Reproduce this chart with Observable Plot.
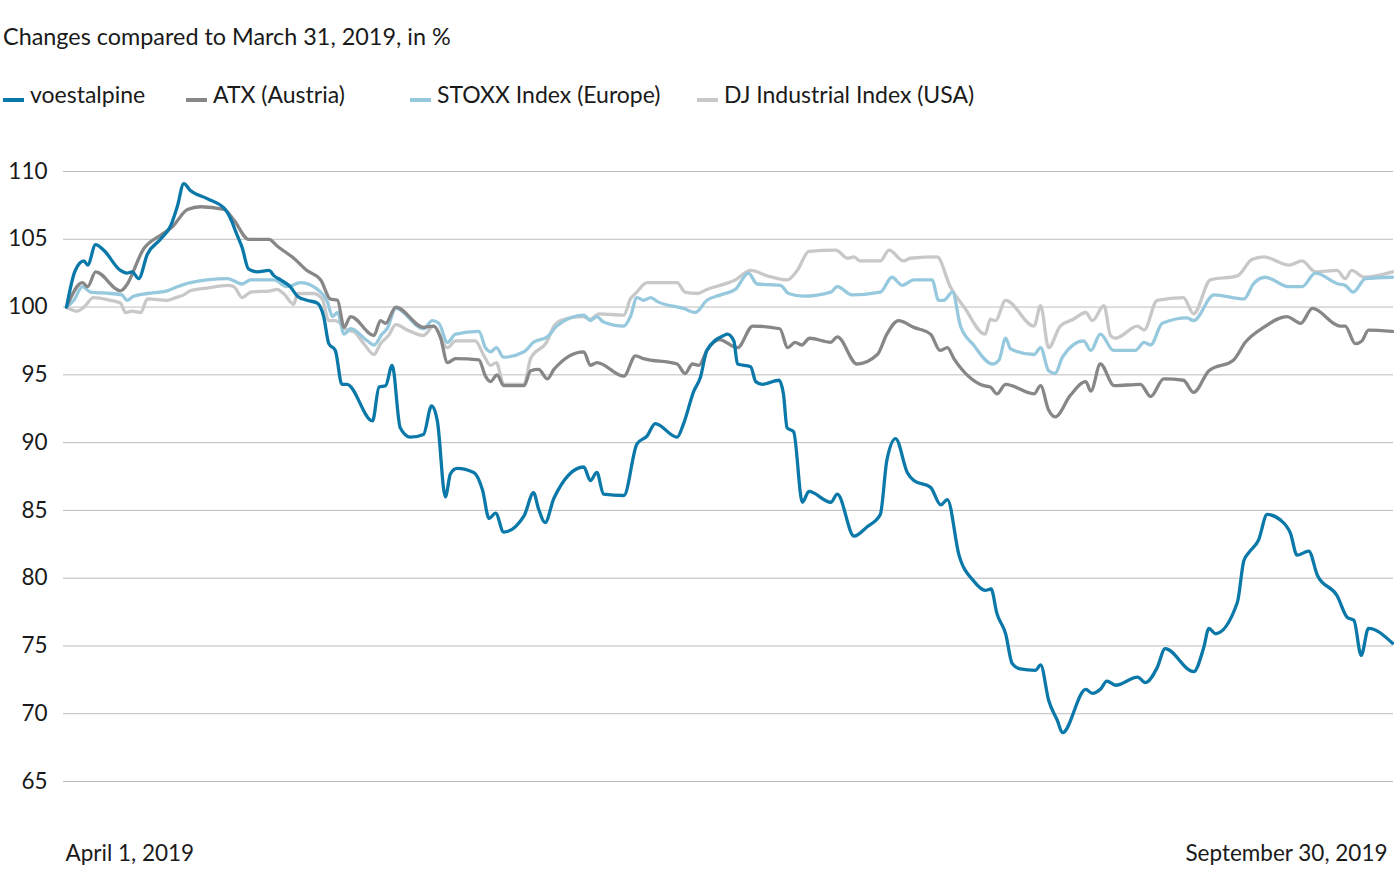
<!DOCTYPE html>
<html>
<head>
<meta charset="utf-8">
<script src="https://cdn.jsdelivr.net/npm/d3@7"></script>
<script src="https://cdn.jsdelivr.net/npm/@observablehq/plot@0.6"></script>
<style>
  html, body { margin: 0; padding: 0; background: #fff; }
  body { width: 1394px; height: 888px; position: relative; overflow: hidden; font-family: Lato, "Open Sans", sans-serif; color: #1a1a1a; }
  #title { position: absolute; left: 3px; top: 22px; font-size: 23.4px; line-height: 28px; white-space: nowrap; }
  .lg { position: absolute; top: 80px; font-size: 23px; line-height: 28px; white-space: nowrap; }
  .sw { position: absolute; top: 18px; width: 21px; height: 4px; }
  .lg span.t { position: absolute; white-space: nowrap; }
  #chart { position: absolute; left: 0; top: 140px; }
</style>
</head>
<body>
<div id="title"></div>
<div id="legend"></div>
<div id="chart"></div>
<script>
// ---- data (calendar days after April 1, 2019; values in % of March 31, 2019) ----
const titleText = "Changes compared to March 31, 2019, in %";
const seriesNames = ["voestalpine", "ATX (Austria)", "STOXX Index (Europe)", "DJ Industrial Index (USA)"];
const seriesColors = ["#0a78a8", "#878787", "#97c9de", "#c8c8c8"];
const startLabel = "April 1, 2019";
const endLabel = "September 30, 2019";
const yTicks = [65, 70, 75, 80, 85, 90, 95, 100, 105, 110];

const voestDays = [0,1.2,2.4,2.9,4.0,5.1,7.4,8.3,9.0,9.9,11.1,12.9,14.3,15.2,16.1,17.0,19.3,21.8,22.7,23.2,24.1,25.0,26.2,27.8,28.5,29.4,30.7,31.7,33.0,34.4,35.3,36.0,36.9,37.8,38.5,42.0,42.9,43.8,44.7,45.8,47.2,49.0,50.1,50.9,52.0,52.7,53.6,55.9,57.1,58.0,58.9,60.0,62.8,64.1,64.8,65.7,66.9,71.0,71.9,72.8,73.7,76.5,78.3,79.7,80.8,83.8,84.7,86.1,87.0,87.9,90.2,90.7,91.6,92.1,93.9,94.6,95.5,97.8,98.4,98.9,99.8,101.0,101.9,104.9,105.8,108.1,109.9,111.7,112.6,113.8,115.4,116.3,118.6,120.0,120.9,122.5,124.5,126.1,126.9,127.7,128.9,129.8,130.9,133.0,133.7,134.8,136.0,136.7,139.9,140.8,141.9,142.8,144.0,147.0,148.1,149.7,150.8,154.7,156.1,156.8,157.7,160.7,161.6,162.3,163.6,164.8,166.6,168.0,168.9,170.5,171.7,174.4,175.8,176.7,177.7,178.7,182];
const voestValues = [100.0,102.7,103.4,103.1,104.6,104.2,102.7,102.5,102.6,102.1,103.9,105.0,106.0,107.4,109.1,108.6,108.0,107.2,106.3,105.6,104.4,102.8,102.6,102.7,102.3,102.0,101.5,100.8,100.5,100.3,99.3,97.3,96.8,94.3,94.3,91.6,94.1,94.2,95.7,91.1,90.4,90.6,92.7,91.6,86.0,87.7,88.1,87.8,86.5,84.4,84.8,83.4,84.6,86.3,85.1,84.1,85.9,88.2,87.2,87.8,86.2,86.1,89.9,90.5,91.4,90.4,91.4,93.8,94.8,96.8,97.9,98.0,97.5,95.8,95.6,94.5,94.3,94.6,93.6,91.1,90.8,85.6,86.4,85.6,86.2,83.1,83.8,84.7,88.7,90.3,87.8,87.2,86.7,85.4,85.8,81.7,79.8,79.1,79.2,77.4,75.9,73.7,73.3,73.2,73.6,71.0,69.5,68.6,71.8,71.5,71.8,72.4,72.1,72.7,72.3,73.4,74.8,73.1,74.9,76.3,75.9,78.2,81.3,81.9,82.8,84.7,84.3,83.3,81.7,82.0,80.2,78.7,77.1,76.9,74.3,76.3,75.2];

const atxDays = [0,2.2,2.9,4.0,7.4,8.1,10.6,12.9,14.5,16.6,18.4,21.6,23.0,25.0,27.8,28.9,31.2,33.0,34.9,36.2,37.2,38.1,39.0,42.2,43.1,43.8,45.2,49.0,50.4,51.3,52.3,53.4,56.6,57.5,58.2,59.1,60.0,62.8,63.7,64.8,66.0,66.9,71.0,71.9,72.8,76.5,78.1,79.2,83.8,84.9,85.9,86.8,87.9,89.6,92.1,94.2,97.9,99.0,100.0,100.9,102.0,104.9,105.8,108.5,111.3,112.6,114.2,116.3,118.6,119.9,120.9,121.8,125.9,126.8,127.7,128.9,132.8,133.7,134.8,135.7,137.8,139.9,140.6,141.9,143.8,147.4,148.8,150.6,153.3,154.7,156.8,160.2,161.8,164.3,167.5,169.4,171.0,174.8,175.5,176.9,177.8,178.7,182];
const atxValues = [100.0,101.8,101.5,102.6,101.2,101.5,104.3,105.3,105.9,107.2,107.4,107.2,106.4,105.0,105.0,104.5,103.6,102.7,102.0,100.6,100.5,98.5,99.3,97.9,99.0,98.8,100.0,98.5,98.6,97.8,95.9,96.2,96.1,94.9,94.5,95.0,94.2,94.2,95.3,95.4,94.7,95.4,96.7,95.7,95.9,94.9,96.4,96.2,95.8,95.1,95.8,95.7,96.8,97.6,97.0,98.6,98.4,97.0,97.4,97.2,97.7,97.4,97.8,95.8,96.5,98.0,99.0,98.5,98.0,96.8,97.0,96.2,94.2,94.1,93.6,94.3,93.6,94.2,92.4,91.9,93.5,94.5,93.8,95.8,94.2,94.3,93.4,94.7,94.6,93.7,95.3,96.1,97.4,98.5,99.3,98.8,99.9,98.6,98.6,97.3,97.5,98.3,98.2];

const stoxxDays = [0,1.0,2.2,3.3,6.0,7.6,8.3,9.2,11.1,13.8,15.2,17.0,22.1,24.1,25.3,28.5,30.3,32.1,34.9,35.8,36.5,37.2,38.1,39.0,41.3,42.2,43.3,44.0,45.2,49.0,50.2,51.1,52.3,53.4,56.6,57.5,58.2,59.0,60.0,62.8,64.1,66.0,67.3,71.0,71.9,72.8,73.7,76.5,77.4,78.3,79.2,80.2,81.1,84.7,86.3,87.9,89.8,91.8,93.6,94.8,98.0,99.1,101.2,104.9,105.8,107.8,111.7,113.3,114.7,116.3,118.8,119.7,120.4,121.6,122.7,124.5,127.1,128.0,128.9,129.6,132.8,133.7,134.8,135.7,136.7,139.6,140.6,141.9,143.7,146.7,147.9,148.8,150.4,153.8,154.7,157.5,161.6,162.9,164.5,167.8,169.6,171.4,174.6,175.5,176.6,178.3,182];
const stoxxValues = [100.0,100.5,101.5,101.1,101.0,100.9,100.5,100.8,101.0,101.2,101.5,101.8,102.1,101.7,102.0,102.0,101.5,101.8,101.1,100.4,99.3,99.6,98.0,98.4,97.5,97.2,98.0,98.4,99.9,98.4,99.0,98.8,97.4,98.0,98.2,97.0,96.7,97.0,96.3,96.7,97.4,97.8,98.6,99.4,99.0,99.3,98.9,98.6,99.3,100.7,100.5,100.7,100.4,99.9,99.6,100.5,100.9,101.3,102.5,101.7,101.6,101.0,100.8,101.1,101.5,100.9,101.1,102.2,101.6,102.0,102.0,100.5,100.5,101.1,98.6,97.2,95.8,96.1,97.7,96.9,96.5,97.0,95.3,95.1,96.3,97.5,96.8,98.0,96.8,96.8,97.4,97.2,98.8,99.2,99.0,100.9,100.6,101.7,102.2,101.5,101.5,102.5,101.7,101.6,101.1,102.1,102.2];

const djDays = [0,1.4,2.4,3.7,6.0,7.4,8.1,9.0,10.2,11.1,13.8,15.0,16.1,17.0,19.3,22.1,23.0,24.1,25.3,28.0,28.9,29.8,31.2,31.7,33.9,35.1,36.0,36.9,37.6,38.5,39.4,40.8,42.2,43.1,44.2,45.2,46.8,49.0,50.4,52.3,53.4,56.1,57.3,58.2,59.0,60.0,62.8,63.7,66.0,66.9,67.8,70.8,71.9,73.1,76.5,77.4,78.1,79.7,83.8,84.9,86.6,87.9,90.9,91.8,93.9,96.2,98.9,100.3,101.9,105.6,107.2,108.1,108.9,111.7,112.9,114.9,115.8,119.5,121.3,123.2,126.1,126.8,127.5,128.9,132.8,133.7,134.8,136.4,138.2,139.9,140.8,142.4,143.3,144.0,147.0,147.9,149.7,153.3,154.7,157.0,160.7,162.7,164.3,167.8,169.6,171.4,174.4,175.5,176.4,178.1,182];
const djValues = [100.0,99.7,100.0,100.7,100.5,100.3,99.6,99.7,99.6,100.6,100.5,100.7,100.9,101.2,101.4,101.6,101.5,100.7,101.1,101.2,101.3,101.0,100.2,101.0,101.0,100.6,99.0,99.0,98.8,98.3,98.2,97.3,96.5,97.3,97.9,98.7,98.3,97.9,98.6,97.0,97.5,97.5,96.4,95.7,95.9,94.3,94.3,96.2,97.5,98.6,99.0,99.3,99.1,99.5,99.4,100.6,101.0,101.8,101.8,101.1,101.0,101.3,101.8,102.0,102.7,102.3,102.0,102.7,104.1,104.2,103.6,103.7,103.4,103.4,104.2,103.4,103.6,103.7,101.5,100.0,98.0,99.1,99.0,100.5,98.6,100.1,97.0,98.6,99.1,99.6,99.0,100.1,97.9,97.7,98.6,98.3,100.5,100.7,99.5,102.0,102.3,103.5,103.7,103.1,103.4,102.6,102.7,102.1,102.7,102.2,102.6];

// ---- build table ----
const t0 = new Date(2019, 3, 1);
const t1 = new Date(2019, 8, 30);
const toDate = d => new Date(t0.getTime() + d * 864e5);
const daysList = [voestDays, atxDays, stoxxDays, djDays];
const valuesList = [voestValues, atxValues, stoxxValues, djValues];
const rows = [];
// draw order: lightest first, voestalpine on top
[3, 2, 1, 0].forEach(i => {
  daysList[i].forEach((d, j) => rows.push({series: seriesNames[i], date: toDate(d), value: valuesList[i][j]}));
});

// ---- title & legend ----
document.getElementById("title").textContent = titleText;
const legendX = [3, 186, 410, 697];
const legend = document.getElementById("legend");
seriesNames.forEach((name, i) => {
  const item = document.createElement("div");
  item.className = "lg";
  item.style.left = legendX[i] + "px";
  const sw = document.createElement("div");
  sw.className = "sw";
  sw.style.left = "0px";
  sw.style.background = seriesColors[i];
  const t = document.createElement("span");
  t.className = "t";
  t.style.left = "27px";
  t.textContent = name;
  item.appendChild(sw);
  item.appendChild(t);
  legend.appendChild(item);
});

// ---- chart ----
const chart = Plot.plot({
  width: 1394,
  height: 740,
  marginLeft: 63,
  marginRight: 1,
  marginTop: 31,
  marginBottom: 99,
  style: {fontFamily: "Lato, 'Open Sans', sans-serif", fontSize: "23px", color: "#1a1a1a", background: "#fff", overflow: "visible"},
  x: {type: "time", domain: [t0, t1], insetLeft: 3, insetRight: 1, axis: null},
  y: {domain: [65, 110]},
  color: {domain: seriesNames, range: seriesColors},
  marks: [
    Plot.gridY(yTicks, {stroke: "#bdbdbd", strokeOpacity: 1, strokeWidth: 1}),
    Plot.axisY(yTicks, {tickSize: 0, tickPadding: 16, label: null, fontSize: 22.5, fill: "#1a1a1a"}),
    Plot.line(rows, {x: "date", y: "value", z: "series", stroke: "series", strokeWidth: 3.3, curve: "monotone-x", strokeLinejoin: "round"}),
    Plot.text([startLabel], {x: () => t0, y: () => 65, dy: 72, dx: -1, textAnchor: "start", fontSize: 22.5, fill: "#1a1a1a"}),
    Plot.text([endLabel], {x: () => t1, y: () => 65, dy: 72, dx: -5, textAnchor: "end", fontSize: 22.5, fill: "#1a1a1a"})
  ]
});
document.getElementById("chart").appendChild(chart);
</script>
</body>
</html>
